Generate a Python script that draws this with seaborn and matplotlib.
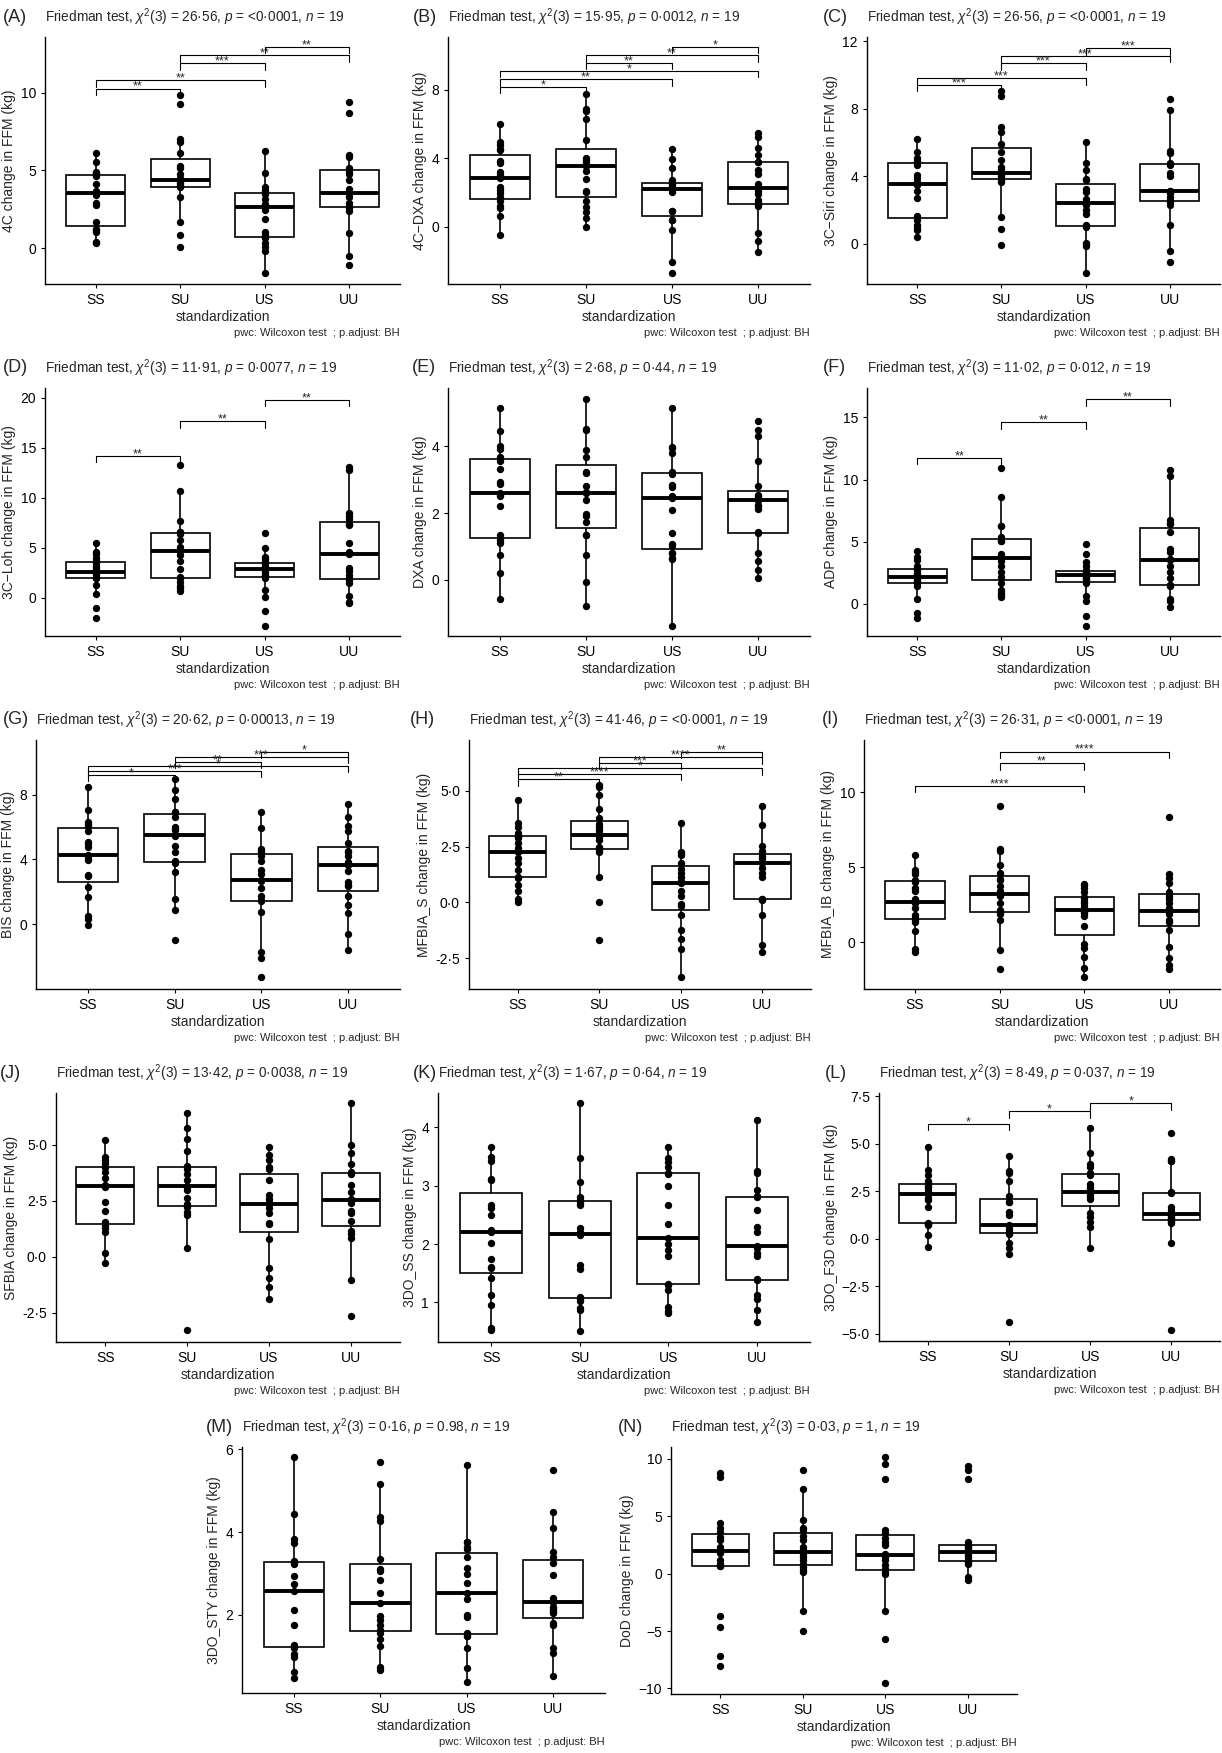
import numpy as np
import pandas as pd
import matplotlib
matplotlib.use('Agg')
import matplotlib.pyplot as plt
import seaborn as sns

sns.set_theme(style='ticks')
plt.rcParams['font.family'] = ['Liberation Sans', 'DejaVu Sans']
plt.rcParams['mathtext.fontset'] = 'custom'
plt.rcParams['mathtext.rm'] = 'Liberation Sans'
plt.rcParams['mathtext.it'] = 'Liberation Sans:italic'

groups = ['SS', 'SU', 'US', 'UU']

# (A) 4C
a_vals = {
    'SS': [0.35, 0.4, 1.05, 1.15, 1.2, 1.7, 2.8, 2.9, 3.4, 3.55, 3.6, 3.7, 4.15, 4.65, 4.75, 4.85, 4.9, 5.55, 6.1],
    'SU': [0.05, 0.85, 1.7, 3.3, 3.9, 4.0, 4.05, 4.2, 4.3, 4.38, 4.5, 4.8, 5.15, 5.3, 6.15, 6.85, 7.0, 9.25, 9.85],
    'US': [-1.63, -0.17, 0.05, 0.3, 0.62, 0.85, 1.05, 1.9, 2.45, 2.62, 2.7, 2.85, 3.15, 3.45, 3.6, 3.75, 3.95, 4.85, 6.27],
    'UU': [-1.09, -0.52, 0.94, 2.4, 2.55, 2.7, 2.92, 3.3, 3.45, 3.56, 3.78, 4.38, 4.8, 4.9, 5.13, 5.84, 5.99, 8.73, 9.42],
}
a_br = [('SS', 'SU', 10.28, '**'), ('SS', 'US', 10.8, '**'), ('SU', 'US', 11.9, '***'),
        ('SU', 'UU', 12.42, '**'), ('US', 'UU', 12.96, '**')]

# (B) 4C-DXA
b_vals = {
    'SS': [-0.49, 0.62, 1.07, 1.22, 1.5, 1.71, 1.94, 2.14, 2.29, 2.87, 3.01, 3.2, 3.73, 3.83, 4.5, 4.56, 4.76, 4.95, 6.02],
    'SU': [0.0, 0.49, 0.87, 1.17, 1.5, 2.0, 2.08, 2.76, 3.26, 3.53, 3.6, 3.69, 3.92, 4.03, 5.09, 6.31, 6.74, 6.89, 7.77],
    'US': [-2.72, -2.04, -0.19, 0.39, 0.39, 0.9, 0.93, 2.04, 2.17, 2.23, 2.3, 2.4, 2.5, 2.56, 2.6, 2.72, 3.44, 3.98, 4.56],
    'UU': [-1.46, -0.82, -0.39, 1.2, 1.25, 1.36, 1.55, 1.9, 2.1, 2.27, 2.5, 3.07, 3.3, 3.79, 3.8, 4.17, 4.62, 5.24, 5.48],
}
b_br = [('SS', 'SU', 8.16, '*'), ('SS', 'US', 8.6, '**'), ('SS', 'UU', 9.09, '*'),
        ('SU', 'US', 9.55, '**'), ('SU', 'UU', 10.0, '**'), ('US', 'UU', 10.49, '*')]

# (C) 3C-Siri
c_vals = {
    'SS': [0.39, 0.82, 0.95, 1.08, 1.43, 1.63, 2.71, 3.1, 3.49, 3.53, 3.67, 3.88, 4.06, 4.67, 4.85, 4.9, 5.1, 5.43, 6.22],
    'SU': [-0.1, 0.88, 1.57, 3.63, 3.75, 3.89, 3.92, 4.0, 4.1, 4.18, 4.41, 4.57, 4.94, 5.42, 5.88, 6.61, 6.9, 8.73, 9.06],
    'US': [-1.73, -0.16, 0.0, 0.05, 1.0, 1.08, 1.76, 2.0, 2.31, 2.41, 2.45, 2.65, 3.04, 3.24, 3.78, 3.82, 4.35, 4.8, 6.04],
    'UU': [-1.08, -0.43, 1.08, 2.3, 2.45, 2.57, 2.75, 2.98, 3.05, 3.1, 3.14, 4.02, 4.16, 4.65, 4.77, 5.35, 5.49, 7.94, 8.59],
}
c_br = [('SS', 'SU', 9.41, '***'), ('SS', 'US', 9.8, '***'), ('SU', 'US', 10.69, '***'),
        ('SU', 'UU', 11.12, '***'), ('US', 'UU', 11.57, '***')]

# (D) 3C-Loh
d_vals = {
    'SS': [-2.03, -1.03, 0.37, 1.3, 1.95, 1.99, 2.1, 2.3, 2.53, 2.63, 2.73, 2.97, 3.2, 3.47, 3.73, 3.97, 4.4, 4.63, 5.53],
    'SU': [0.73, 0.97, 1.2, 1.63, 2.0, 2.06, 2.87, 3.73, 4.3, 4.73, 4.8, 5.13, 5.8, 6.37, 6.57, 6.63, 7.7, 10.7, 13.3],
    'US': [-2.77, -1.27, 0.07, 0.8, 2.03, 2.23, 2.3, 2.63, 2.75, 2.87, 2.9, 3.0, 3.13, 3.37, 3.57, 3.87, 4.13, 5.0, 6.47],
    'UU': [-0.53, -0.37, 0.2, 1.47, 1.8, 2.0, 2.3, 2.7, 2.97, 4.37, 4.6, 5.47, 7.3, 7.37, 7.9, 8.2, 8.47, 12.73, 13.07],
}
d_br = [('SS', 'SU', 14.2, '**'), ('SU', 'US', 17.63, '**'), ('US', 'UU', 19.8, '**')]

# (E) DXA
e_vals = {
    'SS': [-0.58, 0.2, 0.75, 1.12, 1.2, 1.34, 2.22, 2.5, 2.55, 2.6, 2.87, 2.92, 3.32, 3.57, 3.68, 3.92, 4.02, 4.45, 5.15],
    'SU': [-0.77, -0.07, 0.75, 1.35, 1.35, 1.75, 1.92, 1.97, 2.4, 2.6, 2.62, 2.8, 3.2, 3.22, 3.67, 3.9, 4.5, 4.52, 5.42],
    'US': [-1.38, 0.62, 0.65, 0.82, 0.82, 1.02, 1.08, 1.4, 2.1, 2.45, 2.52, 2.78, 2.85, 3.18, 3.22, 3.8, 3.95, 3.98, 5.15],
    'UU': [0.07, 0.3, 0.57, 0.8, 1.4, 1.44, 2.12, 2.2, 2.25, 2.38, 2.4, 2.45, 2.5, 2.55, 2.8, 3.55, 4.32, 4.5, 4.75],
}

# (F) ADP
f_vals = {
    'SS': [-1.15, -0.7, 0.38, 1.45, 1.7, 1.74, 1.85, 1.99, 2.05, 2.15, 2.25, 2.4, 2.52, 2.75, 2.83, 3.06, 3.54, 3.76, 4.27],
    'SU': [0.59, 0.7, 0.86, 1.13, 1.66, 2.2, 2.55, 3.06, 3.49, 3.68, 3.81, 4.02, 5.02, 5.05, 5.37, 6.28, 6.3, 8.59, 10.92],
    'US': [-1.77, -0.94, 0.27, 0.67, 1.72, 1.88, 1.99, 2.1, 2.2, 2.33, 2.4, 2.5, 2.6, 2.6, 2.76, 3.06, 3.35, 4.02, 4.8],
    'UU': [-0.27, 0.2, 0.38, 1.45, 1.53, 1.53, 2.07, 2.6, 3.06, 3.54, 3.6, 4.21, 4.4, 5.82, 6.46, 6.49, 6.71, 10.25, 10.73],
}
f_br = [('SS', 'SU', 11.73, '**'), ('SU', 'US', 14.6, '**'), ('US', 'UU', 16.47, '**')]

# (G) BIS
g_vals = {
    'SS': [-0.08, 0.33, 0.47, 1.67, 2.27, 3.0, 3.05, 3.94, 4.1, 4.29, 4.8, 4.95, 5.11, 5.77, 6.1, 6.2, 6.31, 7.07, 8.47],
    'SU': [-0.97, 0.89, 1.57, 3.2, 3.8, 3.88, 4.49, 4.85, 5.46, 5.53, 5.84, 5.95, 6.04, 6.66, 6.94, 6.97, 7.73, 8.31, 8.99],
    'US': [-3.28, -2.1, -1.73, 0.74, 1.4, 1.48, 1.71, 2.23, 2.64, 2.74, 3.11, 3.32, 3.88, 4.19, 4.47, 4.5, 4.64, 5.98, 6.97],
    'UU': [-1.63, -0.62, 0.68, 1.2, 1.71, 2.33, 2.43, 2.58, 3.26, 3.67, 3.84, 4.2, 4.49, 4.55, 5.05, 5.77, 6.08, 6.66, 7.44],
}
g_br = [('SS', 'SU', 9.24, '*'), ('SS', 'US', 9.5, '***'), ('SS', 'UU', 9.79, '*'),
        ('SU', 'US', 10.06, '**'), ('SU', 'UU', 10.37, '***'), ('US', 'UU', 10.68, '*')]

# (H) MFBIA_S
h_vals = {
    'SS': [0.0, 0.16, 0.49, 0.79, 1.08, 1.16, 1.46, 1.76, 1.98, 2.24, 2.43, 2.65, 2.9, 2.95, 2.97, 3.13, 3.4, 3.55, 4.59],
    'SU': [-1.7, 0.0, 1.13, 2.28, 2.35, 2.43, 2.5, 2.8, 2.95, 3.03, 3.1, 3.25, 3.4, 3.52, 3.77, 4.17, 4.82, 5.16, 5.26],
    'US': [-3.34, -2.09, -1.64, -1.22, -0.55, -0.17, -0.06, 0.27, 0.49, 0.89, 0.94, 1.16, 1.34, 1.52, 1.76, 2.13, 2.2, 2.28, 3.55],
    'UU': [-2.24, -1.89, -0.55, 0.1, 0.15, 0.15, 1.16, 1.3, 1.54, 1.76, 1.8, 1.85, 1.98, 2.1, 2.21, 2.3, 2.53, 3.47, 4.32],
}
h_br = [('SS', 'SU', 5.52, '**'), ('SS', 'US', 5.76, '****'), ('SS', 'UU', 6.01, '*'),
        ('SU', 'US', 6.26, '***'), ('SU', 'UU', 6.5, '****'), ('US', 'UU', 6.75, '**')]

# (I) MFBIA_IB
i_vals = {
    'SS': [-0.67, -0.44, 0.73, 1.33, 1.5, 1.62, 1.84, 2.29, 2.62, 2.71, 2.89, 3.4, 3.62, 4.05, 4.18, 4.58, 4.7, 4.8, 5.84],
    'SU': [-1.78, -0.53, 1.51, 1.9, 2.0, 2.04, 2.18, 2.62, 3.07, 3.22, 3.4, 3.73, 4.18, 4.26, 4.62, 5.18, 6.07, 6.22, 9.07],
    'US': [-2.31, -1.71, -0.98, -0.38, -0.11, 1.07, 1.78, 1.95, 2.05, 2.13, 2.4, 2.6, 2.73, 2.98, 3.02, 3.33, 3.62, 3.8, 3.91],
    'UU': [-1.78, -1.49, -1.04, -0.31, 0.84, 1.38, 1.51, 1.9, 2.0, 2.07, 2.29, 2.6, 2.89, 3.1, 3.33, 3.96, 4.3, 4.58, 8.36],
}
i_br = [('SS', 'US', 10.44, '****'), ('SU', 'US', 11.96, '**'), ('SU', 'UU', 12.73, '****')]

# (J) SFBIA
j_vals = {
    'SS': [-0.3, 0.15, 1.12, 1.3, 1.4, 1.54, 2.06, 2.44, 3.1, 3.18, 3.21, 3.51, 3.8, 4.0, 4.0, 4.18, 4.33, 4.45, 5.23],
    'SU': [-3.29, 0.37, 1.87, 2.0, 2.24, 2.34, 2.61, 2.99, 3.1, 3.17, 3.44, 3.7, 3.91, 4.0, 4.06, 4.71, 5.26, 5.75, 6.42],
    'US': [-1.91, -1.34, -0.97, -0.48, 0.78, 1.46, 1.49, 1.94, 2.2, 2.35, 2.47, 2.6, 2.76, 3.44, 3.94, 4.0, 4.33, 4.56, 4.9],
    'UU': [-2.66, -1.05, 0.82, 1.0, 1.17, 1.61, 1.94, 2.06, 2.4, 2.54, 2.57, 2.91, 3.2, 3.71, 3.77, 4.15, 4.66, 5.0, 6.87],
}

# (K) 3DO_SS
k_vals = {
    'SS': [0.53, 0.56, 0.96, 1.13, 1.41, 1.59, 1.61, 1.75, 2.02, 2.2, 2.24, 2.5, 2.61, 2.67, 3.09, 3.11, 3.43, 3.5, 3.66],
    'SU': [0.51, 0.87, 0.91, 1.03, 1.06, 1.09, 1.58, 1.64, 2.15, 2.18, 2.21, 2.28, 2.67, 2.7, 2.76, 2.81, 3.07, 3.47, 4.41],
    'US': [0.82, 0.85, 0.92, 1.22, 1.3, 1.32, 1.79, 1.89, 2.0, 2.11, 2.34, 2.67, 3.0, 3.2, 3.22, 3.32, 3.4, 3.47, 3.66],
    'UU': [0.66, 0.87, 1.06, 1.12, 1.38, 1.4, 1.8, 1.84, 1.94, 1.97, 2.21, 2.29, 2.59, 2.8, 2.82, 2.93, 3.22, 3.25, 4.12],
}

# (L) 3DO_F3D
l_vals = {
    'SS': [-0.42, 0.19, 0.7, 0.77, 0.77, 0.85, 1.69, 2.04, 2.17, 2.34, 2.43, 2.57, 2.7, 2.83, 2.95, 3.05, 3.36, 3.6, 4.81],
    'SU': [-4.38, -0.81, -0.48, -0.21, 0.25, 0.31, 0.32, 0.46, 0.6, 0.72, 1.25, 1.43, 1.95, 1.95, 2.27, 3.06, 3.45, 3.59, 4.38],
    'US': [-0.48, 0.63, 0.9, 1.16, 1.34, 2.1, 2.2, 2.3, 2.43, 2.45, 2.6, 2.75, 2.89, 3.36, 3.45, 3.77, 3.93, 4.51, 5.86],
    'UU': [-4.82, -0.21, 0.85, 0.9, 0.95, 1.02, 1.07, 1.15, 1.25, 1.3, 1.35, 1.51, 1.69, 2.41, 2.45, 4.07, 4.12, 4.19, 5.56],
}
l_br = [('SS', 'SU', 6.06, '*'), ('SU', 'US', 6.71, '*'), ('US', 'UU', 7.15, '*')]

# (M) 3DO_STY
m_vals = {
    'SS': [0.47, 0.61, 0.98, 1.06, 1.2, 1.24, 1.28, 1.76, 2.12, 2.58, 2.75, 2.94, 3.23, 3.25, 3.3, 3.75, 3.83, 4.44, 5.82],
    'SU': [0.67, 0.75, 1.24, 1.41, 1.57, 1.63, 1.76, 1.88, 1.98, 2.28, 2.54, 2.85, 3.05, 3.1, 3.35, 4.28, 4.37, 5.16, 5.7],
    'US': [0.37, 0.71, 1.2, 1.48, 1.5, 1.56, 1.94, 2.0, 2.38, 2.52, 2.76, 3.0, 3.13, 3.41, 3.6, 3.65, 3.77, 3.77, 5.62],
    'UU': [0.51, 1.07, 1.21, 1.76, 1.8, 2.05, 2.1, 2.15, 2.2, 2.3, 2.32, 2.4, 2.97, 3.25, 3.41, 3.53, 4.11, 4.49, 5.5],
}

# (N) DoD
n_vals = {
    'SS': [-8.05, -7.18, -4.63, -3.7, 0.64, 0.7, 0.81, 1.16, 1.79, 1.94, 2.08, 2.3, 2.89, 3.2, 3.64, 3.99, 4.4, 8.39, 8.74],
    'SU': [-4.98, -3.24, 0.14, 0.3, 0.58, 0.86, 1.16, 1.4, 1.59, 1.88, 2.08, 2.32, 2.89, 3.3, 3.76, 3.99, 4.69, 7.38, 9.03],
    'US': [-9.49, -5.73, -3.27, -0.06, 0.15, 0.43, 0.72, 1.2, 1.45, 1.65, 1.68, 2.46, 2.75, 3.13, 3.53, 3.76, 8.25, 9.55, 10.13],
    'UU': [-0.52, -0.29, 0.81, 1.0, 1.05, 1.12, 1.22, 1.4, 1.59, 1.88, 1.97, 2.1, 2.32, 2.4, 2.52, 2.75, 8.25, 8.97, 9.32],
}

M = '\u2212'
panels = [
    ('(A)', a_vals, '4C change in FFM (kg)', '26·56', '<0·0001', a_br, (-2.32, 13.6), [0, 5, 10], ['0', '5', '10'], (45, 37, 400, 284), 3),
    ('(B)', b_vals, '4C' + M + 'DXA change in FFM (kg)', '15·95', '0·0012', b_br, (-3.34, 11.07), [0, 4, 8], ['0', '4', '8'], (448, 37, 810, 284), 413),
    ('(C)', c_vals, '3C' + M + 'Siri change in FFM (kg)', '26·56', '<0·0001', c_br, (-2.39, 12.25), [0, 4, 8, 12], ['0', '4', '8', '12'], (867, 37, 1220, 284), 823),
    ('(D)', d_vals, '3C' + M + 'Loh change in FFM (kg)', '11·91', '0·0077', d_br, (-3.8, 20.97), [0, 5, 10, 15, 20], ['0', '5', '10', '15', '20'], (45, 388, 400, 636), 3),
    ('(E)', e_vals, 'DXA change in FFM (kg)', '2·68', '0·44', [], (-1.68, 5.75), [0, 2, 4], ['0', '2', '4'], (448, 388, 810, 636), 412),
    ('(F)', f_vals, 'ADP change in FFM (kg)', '11·02', '0·012', f_br, (-2.58, 17.36), [0, 5, 10, 15], ['0', '5', '10', '15'], (867, 388, 1220, 636), 823),
    ('(G)', g_vals, 'BIS change in FFM (kg)', '20·62', '0·00013', g_br, (-4.02, 11.4), [0, 4, 8], ['0', '4', '8'], (36, 740, 400, 989), 3),
    ('(H)', h_vals, 'MFBIA_S change in FFM (kg)', '41·46', '<0·0001', h_br, (-3.88, 7.28), [-2.5, 0, 2.5, 5], ['-2·5', '0·0', '2·5', '5·0'], (469, 740, 811, 989), 410),
    ('(I)', i_vals, 'MFBIA_IB change in FFM (kg)', '26·31', '<0·0001', i_br, (-3.11, 13.5), [0, 5, 10], ['0', '5', '10'], (864, 740, 1220, 989), 822),
    ('(J)', j_vals, 'SFBIA change in FFM (kg)', '13·42', '0·0038', [], (-3.81, 7.32), [-2.5, 0, 2.5, 5], ['-2·5', '0·0', '2·5', '5·0'], (56, 1093, 400, 1342), 0),
    ('(K)', k_vals, '3DO_SS change in FFM (kg)', '1·67', '0·64', [], (0.32, 4.59), [1, 2, 3, 4], ['1', '2', '3', '4'], (438, 1093, 810, 1342), 413),
    ('(L)', l_vals, '3DO_F3D change in FFM (kg)', '8·49', '0·037', l_br, (-5.39, 7.68), [-5, -2.5, 0, 2.5, 5, 7.5], [M + '5·0', M + '2·5', '0·0', '2·5', '5·0', '7·5'], (879, 1093, 1220, 1341), 825),
    ('(M)', m_vals, '3DO_STY change in FFM (kg)', '0·16', '0.98', [], (0.11, 6.06), [2, 4, 6], ['2', '4', '6'], (242, 1447, 605, 1693), 206),
    ('(N)', n_vals, 'DoD change in FFM (kg)', '0·03', '1', [], (-10.48, 11.01), [-10, -5, 0, 5, 10], [M + '10', M + '5', '0', '5', '10'], (671, 1447, 1017, 1694), 618),
]

W, H = 1222, 1753
fig = plt.figure(figsize=(W / 100, H / 100), dpi=100)

for tag, vals, ylab, chi, p, brackets, ylim, ticks, tlabels, rect, labx in panels:
    l, t, r, b = rect
    ax = fig.add_axes([l / W, 1 - b / H, (r - l) / W, (b - t) / H])
    df = pd.DataFrame({
        'standardization': np.repeat(groups, [len(vals[g]) for g in groups]),
        'value': np.concatenate([vals[g] for g in groups]),
    })
    sns.boxplot(data=df, x='standardization', y='value', order=groups, ax=ax,
                width=0.7, color='white', linecolor='black', linewidth=1.2,
                showfliers=False, showcaps=False, whis=1.5,
                medianprops={'linewidth': 2.8, 'color': 'black'})
    sns.stripplot(data=df, x='standardization', y='value', order=groups, ax=ax,
                  jitter=False, color='black', size=5.3, zorder=5)
    ax.set_xlim(-0.6, 3.6)
    ax.set_ylim(*ylim)
    ax.set_yticks(ticks)
    ax.set_yticklabels(tlabels)
    ax.set_ylabel(ylab, fontsize=10, labelpad=3)
    ax.set_xlabel('standardization', fontsize=10, labelpad=2)
    ax.tick_params(axis='both', labelsize=10, length=3, width=0.8, color='black', labelcolor='black')
    sns.despine(ax=ax)
    for s in ['left', 'bottom']:
        ax.spines[s].set_linewidth(1.0)
        ax.spines[s].set_color('black')

    span = ylim[1] - ylim[0]
    d = 0.026 * span
    for g1, g2, y, lab in brackets:
        x1, x2 = groups.index(g1), groups.index(g2)
        ax.plot([x1, x1, x2, x2], [y - d, y, y, y - d], color='black', lw=0.8, zorder=6)
        ax.annotate(lab, ((x1 + x2) / 2, y), xytext=(0, -1), textcoords='offset points',
                    ha='center', va='baseline', fontsize=9, zorder=7)

    ty = 1 - (t - 20) / H
    fig.text(labx / W, ty, tag, fontsize=13, va='center', ha='left')
    fig.text(l / W, ty, f'Friedman test, $\\chi^2$(3) = {chi}, $p$ = {p}, $n$ = 19',
             fontsize=9.8, va='center', ha='left')
    fig.text(r / W, 1 - (b + 49) / H, 'pwc: Wilcoxon test  ; p.adjust: BH',
             fontsize=8, va='center', ha='right')

fig.savefig('out.png', dpi=100)
